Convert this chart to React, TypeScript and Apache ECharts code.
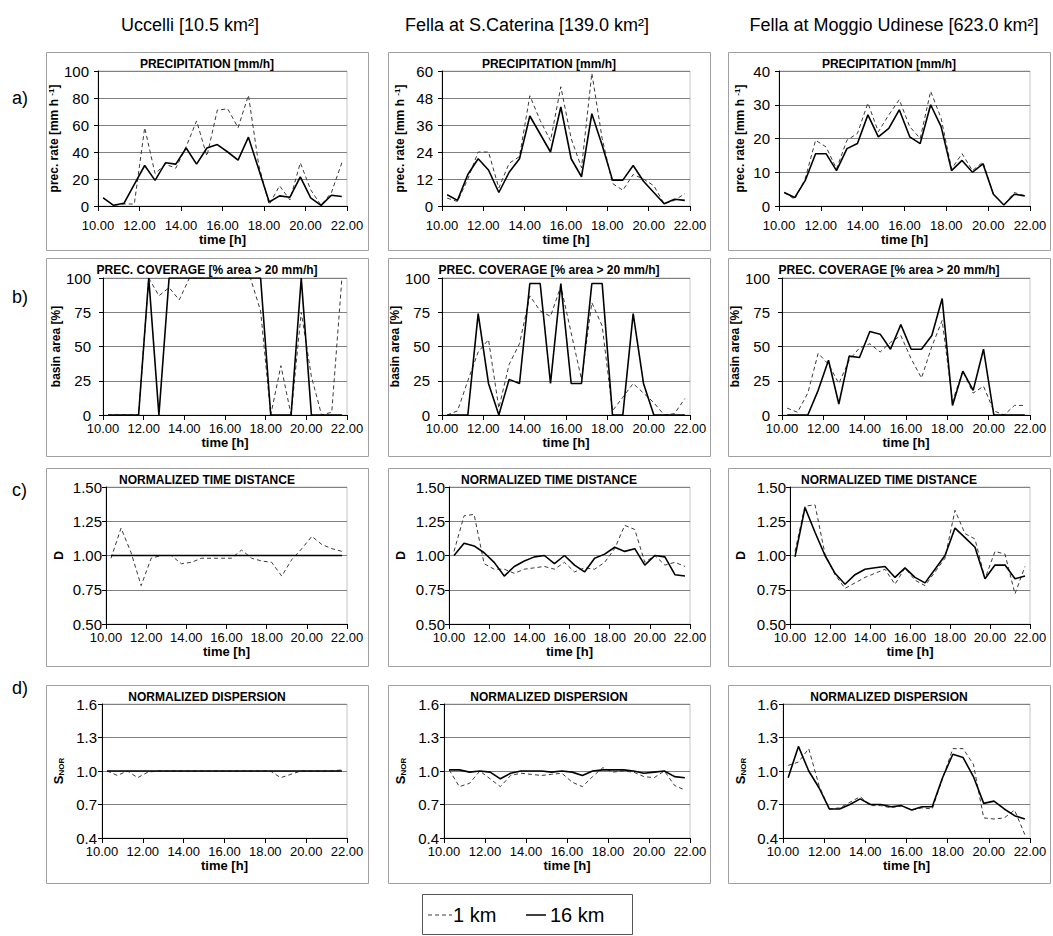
import React, { useEffect, useRef } from "react";
import * as echarts from "echarts";

// ---------- data ----------
const times = [10.25, 10.75, 11.25, 11.75, 12.25, 12.75, 13.25, 13.75, 14.25, 14.75, 15.25, 15.75,
  16.25, 16.75, 17.25, 17.75, 18.25, 18.75, 19.25, 19.75, 20.25, 20.75, 21.25, 21.75];

const basinTitles = ["Uccelli [10.5 km²]", "Fella at S.Caterina [139.0 km²]", "Fella at Moggio Udinese [623.0 km²]"];
const rowLetters = ["a)", "b)", "c)", "d)"];
const panelTitles = ["PRECIPITATION [mm/h]", "PREC. COVERAGE [% area > 20 mm/h]", "NORMALIZED TIME DISTANCE", "NORMALIZED DISPERSION"];
const legendNames = ["1 km", "16 km"];

// a) precipitation rate
const precUcc1 = [6, 0.5, 1.5, 1.5, 58, 24, 31, 28, 44, 63, 37, 71, 72, 58, 82, 30, 1, 15, 4.5, 32, 12, 0.5, 10, 32];
const precUcc16 = [6, 0.5, 2, 16, 30, 19, 32, 31, 43, 31, 43, 45.5, 40, 34, 51, 27, 3, 7.5, 6.5, 21.5, 6, 0.5, 8, 7];
const precCat1 = [3.5, 2, 12, 24, 24, 8, 19, 22, 49, 38, 29, 53, 30, 17, 59, 30, 10, 7, 14, 12, 9, 1, 2.5, 5.5];
const precCat16 = [5, 2.5, 14, 21, 16, 6, 15, 21, 40, 32, 24, 44, 21, 13, 41, 27, 11.5, 11.5, 18, 11, 6, 1, 3, 2.5];
const precMog1 = [4, 2, 8, 19.5, 17.5, 11, 19.5, 21.5, 30.5, 22, 27, 31.5, 23.5, 20, 34, 26, 11, 15.5, 10.5, 13, 3.5, 0.3, 4, 3];
const precMog16 = [4, 2.5, 7.5, 15.5, 15.5, 10.5, 17, 18.5, 27, 20.5, 23, 28.5, 20.5, 18.5, 30, 23.5, 10.5, 13.5, 10, 12.5, 3.5, 0.3, 3.5, 3];

// b) precipitation coverage
const covUcc1 = [0, 0, 0, 0, 100, 87, 93, 84, 100, 100, 100, 100, 100, 100, 100, 76, 0, 36, 0, 75, 28, 0, 2, 100];
const covUcc16 = [0, 0, 0, 0, 100, 0, 100, 100, 100, 100, 100, 100, 100, 100, 100, 100, 0, 0, 0, 100, 0, 0, 0, 0];
const covCat1 = [0, 3, 25, 46, 55, 5, 37, 52, 87, 76, 72, 94, 60, 26, 82, 65, 3, 13, 23, 16, 9, 0, 1, 12];
const covCat16 = [0, 0, 0, 74, 23, 0, 26, 23, 96, 96, 23, 96, 23, 23, 96, 96, 0, 0, 74, 23, 0, 0, 0, 0];
const covMog1 = [5, 2, 16, 45, 37, 23, 40, 49, 52, 46, 53, 58, 41, 27, 50, 69, 10, 32, 16, 21, 3, 0, 7, 7];
const covMog16 = [0, 0, 0, 18, 40, 8, 43, 42, 61, 59, 48, 66, 48, 48, 58, 85, 7, 32, 18, 48, 0, 0, 0, 0];

// c) normalized time distance
const distUcc1 = [0.98, 1.2, 1.02, 0.78, 0.98, 1.0, 1.0, 0.94, 0.95, 0.98, 0.98, 0.98, 0.98, 1.04, 0.98, 0.96, 0.95, 0.85, 0.97, 1.05, 1.14, 1.08, 1.05, 1.03];
const distUcc16 = [1, 1, 1, 1, 1, 1, 1, 1, 1, 1, 1, 1, 1, 1, 1, 1, 1, 1, 1, 1, 1, 1, 1, 1];
const distCat1 = [1.03, 1.29, 1.3, 0.94, 0.9, 0.9, 0.87, 0.9, 0.91, 0.92, 0.9, 0.95, 0.88, 0.91, 0.9, 0.95, 1.05, 1.22, 1.19, 0.95, 1.0, 0.93, 0.95, 0.92];
const distCat16 = [1.0, 1.09, 1.07, 1.02, 0.95, 0.85, 0.92, 0.96, 0.99, 1.0, 0.94, 1.0, 0.93, 0.88, 0.98, 1.01, 1.06, 1.03, 1.05, 0.93, 1.0, 0.99, 0.86, 0.85];
const distMog1 = [1.03, 1.36, 1.37, 1.01, 0.86, 0.76, 0.8, 0.84, 0.87, 0.9, 0.79, 0.91, 0.82, 0.78, 0.88, 0.98, 1.33, 1.16, 1.12, 0.83, 1.03, 1.01, 0.72, 0.92];
const distMog16 = [0.99, 1.35, 1.17, 1.0, 0.87, 0.79, 0.86, 0.9, 0.91, 0.92, 0.84, 0.91, 0.84, 0.8, 0.9, 1.0, 1.2, 1.13, 1.06, 0.83, 0.93, 0.93, 0.83, 0.85];

// d) normalized dispersion
const dispUcc1 = [1.0, 0.96, 1.0, 0.94, 0.99, 1.0, 1.0, 1.0, 1.0, 1.0, 1.0, 1.0, 1.0, 1.0, 1.0, 1.0, 1.0, 0.94, 0.97, 1.0, 1.0, 1.0, 1.0, 1.01];
const dispUcc16 = [1, 1, 1, 1, 1, 1, 1, 1, 1, 1, 1, 1, 1, 1, 1, 1, 1, 1, 1, 1, 1, 1, 1, 1];
const dispCat1 = [1.01, 0.86, 0.89, 1.0, 0.93, 0.86, 0.96, 0.98, 0.97, 0.96, 0.97, 0.98, 0.9, 0.86, 0.95, 1.03, 0.99, 1.0, 0.99, 0.95, 0.94, 1.0, 0.87, 0.83];
const dispCat16 = [1.01, 1.01, 0.99, 1.0, 0.99, 0.93, 0.98, 1.0, 1.0, 1.0, 0.99, 1.0, 0.99, 0.96, 1.0, 1.01, 1.01, 1.01, 1.0, 0.98, 0.99, 1.0, 0.95, 0.94];
const dispMog1 = [1.05, 1.08, 1.2, 0.87, 0.66, 0.67, 0.72, 0.77, 0.69, 0.69, 0.67, 0.69, 0.65, 0.67, 0.66, 0.93, 1.2, 1.2, 1.06, 0.58, 0.57, 0.58, 0.65, 0.43];
const dispMog16 = [0.94, 1.22, 1.0, 0.85, 0.66, 0.66, 0.7, 0.75, 0.7, 0.7, 0.68, 0.69, 0.65, 0.68, 0.68, 0.94, 1.15, 1.12, 0.95, 0.71, 0.73, 0.66, 0.6, 0.57];

// axis scales
const xMin = 10;
const xMax = 22;
const xStep = 2;
const yMinRow = [0, 0, 0.5, 0.4];
const yMaxRow = [[100, 60, 40], [100, 100, 100], [1.5, 1.5, 1.5], [1.6, 1.6, 1.6]];
const yStepRow = [[20, 12, 10], [25, 25, 25], [0.25, 0.25, 0.25], [0.3, 0.3, 0.3]];
const yDecimals = [0, 0, 2, 1];
const yNames = ["prec. rate [mm h {sup|-1}]", "basin area [%]", "D", "{s|S}{sub|NOR}"];

const panelData = [
  [[precUcc1, precUcc16], [precCat1, precCat16], [precMog1, precMog16]],
  [[covUcc1, covUcc16], [covCat1, covCat16], [covMog1, covMog16]],
  [[distUcc1, distUcc16], [distCat1, distCat16], [distMog1, distMog16]],
  [[dispUcc1, dispUcc16], [dispCat1, dispCat16], [dispMog1, dispMog16]],
];

// ---------- layout ----------
const FONT = "'Liberation Sans', Arial, Helvetica, sans-serif";
const BOX_X = [46, 388, 728];
const BOX_W = 322;
const BOX_Y = [52, 258, 468, 685];
const BOX_H = 198;
const PLOT_LEFT = [[98, 442, 779], [103, 442, 782], [106, 449, 790], [102, 444, 783]];
const PLOT_RIGHT = [347, 690, 1030];
const PLOT_TOP = [71, 278, 487, 704];
const PLOT_BOTTOM = [206, 415, 624, 838];
const XLABEL_MARGIN = [13, 7, 7, 7];
const XNAME_GAP = [25, 21, 21, 21];
const YLABEL_MARGIN = [9, 12, 4, 5];

function buildOption() {
  const grid: any[] = [];
  const xAxis: any[] = [];
  const yAxis: any[] = [];
  const series: any[] = [];
  const graphic: any[] = [];

  for (let r = 0; r < 4; r++) {
    for (let c = 0; c < 3; c++) {
      const idx = r * 3 + c;
      const left = PLOT_LEFT[r][c];
      grid.push({
        left,
        top: PLOT_TOP[r],
        width: PLOT_RIGHT[c] - left,
        height: PLOT_BOTTOM[r] - PLOT_TOP[r],
        show: true,
        borderColor: "#c4c4c4",
        borderWidth: 1,
        backgroundColor: "transparent",
        containLabel: false,
        outerBoundsMode: "none",
      });
      xAxis.push({
        type: "value",
        gridIndex: idx,
        min: xMin,
        max: xMax,
        interval: xStep,
        name: "time [h]",
        nameLocation: "middle",
        nameGap: XNAME_GAP[r],
        nameTextStyle: { fontFamily: FONT, fontWeight: "bold", fontSize: 13, color: "#000" },
        axisLine: { show: true, onZero: false, lineStyle: { color: "#000", width: 1 } },
        axisTick: { show: true, length: 5, lineStyle: { color: "#000" } },
        axisLabel: {
          fontFamily: FONT, fontSize: 13, color: "#000", margin: XLABEL_MARGIN[r],
          formatter: (v: number) => v.toFixed(2),
        },
        splitLine: { show: false },
      });
      const dec = yDecimals[r];
      yAxis.push({
        type: "value",
        gridIndex: idx,
        min: yMinRow[r],
        max: yMaxRow[r][c],
        interval: yStepRow[r][c],
        name: yNames[r],
        nameLocation: "middle",
        nameGap: left - (BOX_X[c] + 13) - 6,
        nameTextStyle: {
          fontFamily: FONT, fontWeight: "bold", fontSize: 12, color: "#000",
          rich: {
            sup: { fontFamily: FONT, fontWeight: "bold", fontSize: 8, color: "#000", verticalAlign: "top", lineHeight: 14 },
            s: { fontFamily: FONT, fontWeight: "bold", fontSize: 13, color: "#000" },
            sub: { fontFamily: FONT, fontWeight: "bold", fontSize: 8, color: "#000", verticalAlign: "bottom" },
          },
        },
        axisLine: { show: true, lineStyle: { color: "#000", width: 1 } },
        axisTick: { show: true, length: 4, lineStyle: { color: "#000" } },
        axisLabel: {
          fontFamily: FONT, fontSize: 15, color: "#000", margin: YLABEL_MARGIN[r],
          formatter: (v: number) => v.toFixed(dec),
        },
        splitLine: { show: true, lineStyle: { color: "#808080", width: 1 } },
      });
      const [fine, coarse] = panelData[r][c];
      series.push({
        type: "line",
        name: legendNames[0],
        xAxisIndex: idx,
        yAxisIndex: idx,
        data: times.map((t, i) => [t, fine[i]]),
        showSymbol: false,
        symbol: "none",
        lineStyle: { color: "#3a3a3a", width: 1, type: [4, 3] },
        z: 3,
      });
      series.push({
        type: "line",
        name: legendNames[1],
        xAxisIndex: idx,
        yAxisIndex: idx,
        data: times.map((t, i) => [t, coarse[i]]),
        showSymbol: false,
        symbol: "none",
        lineStyle: { color: "#000", width: 1.6, type: "solid" },
        z: 4,
      });

      graphic.push({
        type: "rect",
        shape: { x: BOX_X[c] + 0.5, y: BOX_Y[r] + 0.5, width: BOX_W, height: BOX_H },
        style: { fill: "none", stroke: "#a0a0a0", lineWidth: 1 },
        z: -10,
        silent: true,
      });
      graphic.push({
        type: "text",
        x: BOX_X[c] + BOX_W / 2,
        y: BOX_Y[r] + 12,
        style: {
          text: panelTitles[r], fontFamily: FONT, fontWeight: "bold", fontSize: 12, fill: "#000",
          align: "center", verticalAlign: "middle",
        },
        silent: true,
      });
    }
  }

  const colTitleX = [190, 527, 894];
  for (let c = 0; c < 3; c++) {
    graphic.push({
      type: "text",
      x: colTitleX[c],
      y: 25,
      style: { text: basinTitles[c], fontFamily: FONT, fontSize: 18, fill: "#000", align: "center", verticalAlign: "middle" },
      silent: true,
    });
  }
  const rowLetterY = [98, 297, 490, 688];
  for (let r = 0; r < 4; r++) {
    graphic.push({
      type: "text",
      x: 12,
      y: rowLetterY[r],
      style: { text: rowLetters[r], fontFamily: FONT, fontSize: 18, fill: "#000", align: "left", verticalAlign: "middle" },
      silent: true,
    });
  }
  const LX = 422, LY = 894, LW = 210, LH = 40;
  graphic.push({
    type: "rect",
    shape: { x: LX + 0.5, y: LY + 0.5, width: LW, height: LH },
    style: { fill: "#fff", stroke: "#555", lineWidth: 1 },
    silent: true,
  });
  graphic.push({
    type: "line",
    shape: { x1: LX + 6, y1: LY + 21, x2: LX + 30, y2: LY + 21 },
    style: { stroke: "#3a3a3a", lineWidth: 1, lineDash: [4, 3] },
    silent: true,
  });
  graphic.push({
    type: "text",
    x: LX + 31,
    y: LY + 21,
    style: { text: legendNames[0], fontFamily: FONT, fontSize: 20, fill: "#000", align: "left", verticalAlign: "middle" },
    silent: true,
  });
  graphic.push({
    type: "line",
    shape: { x1: LX + 104, y1: LY + 21, x2: LX + 124, y2: LY + 21 },
    style: { stroke: "#000", lineWidth: 1.5 },
    silent: true,
  });
  graphic.push({
    type: "text",
    x: LX + 128,
    y: LY + 21,
    style: { text: legendNames[1], fontFamily: FONT, fontSize: 20, fill: "#000", align: "left", verticalAlign: "middle" },
    silent: true,
  });

  return {
    animation: false,
    backgroundColor: "#fff",
    textStyle: { fontFamily: FONT },
    grid,
    xAxis,
    yAxis,
    series,
    graphic,
  };
}

export default function App() {
  const ref = useRef<HTMLDivElement>(null);
  useEffect(() => {
    document.body.style.margin = "0";
    const chart = echarts.init(ref.current!, null, { renderer: "svg" });
    chart.setOption(buildOption() as any);
    return () => chart.dispose();
  }, []);
  return <div ref={ref} style={{ width: 1053, height: 936, background: "#fff" }} />;
}
